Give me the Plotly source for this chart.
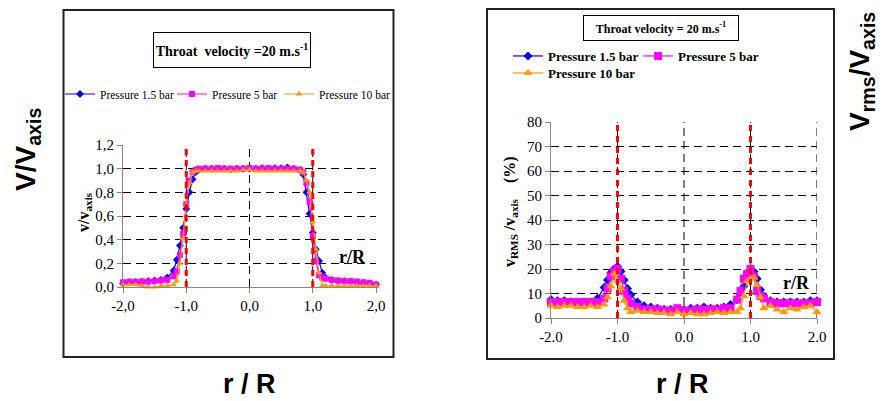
import plotly.graph_objects as go

# ---------------- data ----------------
r_left = [-2.0, -1.9, -1.8, -1.7, -1.6, -1.5, -1.4, -1.3, -1.2, -1.15, -1.1, -1.05, -1.0, -0.95, -0.9, -0.85,
          -0.8, -0.7, -0.6, -0.5, -0.4, -0.3, -0.2, -0.1, 0.0, 0.1, 0.2, 0.3, 0.4, 0.5, 0.6, 0.7, 0.8,
          0.85, 0.9, 0.95, 1.0, 1.05, 1.1, 1.15, 1.2, 1.3, 1.4, 1.5, 1.6, 1.7, 1.8, 1.9, 2.0]

v_p15 = [0.03, 0.04, 0.04, 0.045, 0.05, 0.055, 0.06, 0.08, 0.14, 0.23, 0.35, 0.50, 0.66, 0.80, 0.91, 0.97,
         0.99, 1.0, 1.0, 1.0, 1.0, 0.995, 1.0, 1.0, 1.0, 1.0, 1.005, 1.0, 1.005, 1.005, 1.01, 1.0, 0.99,
         0.95, 0.80, 0.62, 0.46, 0.32, 0.22, 0.12, 0.08, 0.06, 0.05, 0.05, 0.045, 0.04, 0.035, 0.03, 0.02]
v_p5 = [0.04, 0.045, 0.045, 0.045, 0.045, 0.05, 0.055, 0.06, 0.09, 0.13, 0.27, 0.45, 0.70, 0.90, 0.97, 0.99,
        1.0, 1.0, 1.0, 1.005, 1.0, 1.0, 1.0, 1.0, 1.005, 1.0, 1.0, 1.005, 1.0, 1.0, 1.0, 1.0, 0.99,
        0.97, 0.88, 0.72, 0.43, 0.22, 0.10, 0.08, 0.07, 0.06, 0.055, 0.05, 0.05, 0.045, 0.04, 0.035, 0.02]
v_p10 = [0.02, 0.02, 0.02, 0.01, 0.0, 0.0, 0.01, 0.01, 0.02, 0.05, 0.20, 0.41, 0.70, 0.88, 0.97, 0.98,
         0.98, 0.98, 0.98, 0.98, 0.98, 0.98, 0.98, 0.99, 0.99, 0.98, 0.98, 0.98, 0.98, 0.98, 0.98, 0.98, 0.98,
         0.97, 0.90, 0.80, 0.55, 0.32, 0.12, 0.01, 0.01, 0.01, 0.01, 0.01, 0.01, 0.01, 0.01, 0.01, 0.01]

r_right = r_left

rms_p15 = [7.5, 7.0, 7.0, 6.5, 6.5, 6.5, 6.5, 8.0, 12.5, 15.5, 18.5, 20.0, 21.0, 19.0, 15.5, 12.0,
           9.5, 6.5, 5.0, 4.5, 4.0, 3.5, 3.5, 3.5, 3.5, 4.0, 4.0, 4.5, 4.0, 4.0, 4.5, 5.5, 7.5,
           9.5, 13.0, 18.0, 19.5, 19.0, 16.0, 11.5, 9.0, 7.0, 6.5, 6.5, 6.5, 6.5, 6.5, 7.0, 7.0]
rms_p5 = [6.5, 6.5, 6.5, 6.5, 6.5, 6.5, 6.5, 6.5, 8.0, 12.0, 17.0, 19.0, 20.0, 16.0, 11.0, 8.0,
          6.0, 4.5, 3.5, 3.5, 3.5, 3.0, 3.0, 4.0, 3.0, 3.0, 3.5, 3.5, 3.5, 3.5, 4.0, 4.0, 7.5,
          11.0, 16.0, 18.0, 20.0, 17.0, 11.0, 9.0, 8.0, 6.5, 6.0, 6.0, 6.0, 6.0, 6.0, 6.0, 6.5]
rms_p10 = [5.0, 4.5, 5.0, 5.0, 4.5, 4.5, 5.0, 4.5, 5.5, 8.5, 13.0, 18.0, 15.0, 12.0, 7.0, 4.0,
           2.5, 3.0, 2.5, 2.5, 2.0, 2.0, 1.5, 2.5, 1.5, 2.0, 1.5, 1.5, 2.0, 2.5, 2.0, 2.5, 2.5,
           4.0, 9.0, 15.0, 16.0, 16.5, 13.5, 8.5, 4.0, 5.0, 3.5, 2.5, 4.0, 3.5, 4.5, 5.0, 2.5]

series_names = ["Pressure 1.5 bar", "Pressure 5 bar", "Pressure 10 bar"]
series_colors = ["#0000FF", "#FF00FF", "#FF9900"]
series_symbols = ["diamond", "square", "triangle-up"]

left_xticks = [-2, -1, 0, 1, 2]
left_xticktext = ["-2,0", "-1,0", "0,0", "1,0", "2,0"]
left_yticks = [0, 0.2, 0.4, 0.6, 0.8, 1.0, 1.2]
left_yticktext = ["0,0", "0,2", "0,4", "0,6", "0,8", "1,0", "1,2"]
right_xticks = [-2, -1, 0, 1, 2]
right_xticktext = ["-2.0", "-1.0", "0.0", "1.0", "2.0"]
right_yticks = [0, 10, 20, 30, 40, 50, 60, 70, 80]
left_vgrid = [-1, 0, 1]
right_vgrid = [-1, 0, 1, 2]
wall_positions = [-1, 1]

W, H = 885, 401
SERIF = "Liberation Serif"
SANS = "Liberation Sans"


def px(x):
    return x / W


def py(y):
    return 1 - y / H


fig = go.Figure()

left_vals = [v_p15, v_p5, v_p10]
left_legends = ["legend", "legend4", "legend5"]
for name, col, sym, vals, lg in zip(series_names, series_colors, series_symbols, left_vals, left_legends):
    fig.add_trace(go.Scatter(
        x=r_left, y=vals, mode="lines+markers", name=name, legend=lg,
        line=dict(color=col, width=1.2), marker=dict(symbol=sym, size=6, color=col),
        xaxis="x", yaxis="y", cliponaxis=False))

right_vals = [rms_p15, rms_p5, rms_p10]
legends_right = ["legend2", "legend2", "legend3"]
right_sizes = [7, 8, 8]
for name, col, sym, vals, lg, ms in zip(series_names, series_colors, series_symbols, right_vals,
                                        legends_right, right_sizes):
    fig.add_trace(go.Scatter(
        x=r_right, y=vals, mode="lines+markers", name="<b>" + name + "</b>", legend=lg,
        line=dict(color=col, width=1.2), marker=dict(symbol=sym, size=ms, color=col),
        xaxis="x2", yaxis="y2", cliponaxis=False))

axis_common = dict(showline=True, linecolor="#868686", linewidth=1, ticks="outside", ticklen=5,
                   tickcolor="#868686", zeroline=False, automargin=False,
                   tickfont=dict(family=SERIF, size=15, color="#000"))
grid_common = dict(showgrid=True, gridcolor="#000", griddash="8px,5px", gridwidth=1)


def leg(xpos, ypos, size, **kw):
    return dict(orientation="h", x=px(xpos), xanchor="left", y=py(ypos), yanchor="middle",
                font=dict(family=SERIF, size=size, color="#000"), bgcolor="rgba(0,0,0,0)",
                itemwidth=30, **kw)


fig.update_layout(
    width=W, height=H, margin=dict(l=0, r=0, t=0, b=0, pad=0, autoexpand=False),
    paper_bgcolor="white", plot_bgcolor="white",
    xaxis=dict(domain=[px(123), px(376)], range=[-2, 2], tickvals=left_xticks, ticktext=left_xticktext,
               showgrid=False, anchor="y", **axis_common),
    yaxis=dict(domain=[py(287), py(145)], range=[0, 1.2], tickvals=left_yticks, ticktext=left_yticktext,
               anchor="x", **grid_common, **axis_common),
    xaxis2=dict(domain=[px(551), px(817)], range=[-2, 2], tickvals=right_xticks, ticktext=right_xticktext,
                showgrid=False, anchor="y2", **axis_common),
    yaxis2=dict(domain=[py(318), py(122)], range=[0, 80], tickvals=right_yticks,
                anchor="x2", **grid_common, **axis_common),
    legend=leg(60, 94, 11.5),
    legend4=leg(172, 94, 11.5),
    legend5=leg(279, 94, 11.5),
    legend2=leg(508, 56, 13, entrywidth=85, entrywidthmode="pixels"),
    legend3=leg(508, 73, 13),
    showlegend=True,
)

shapes = []
# outer panel frames
shapes.append(dict(type="rect", xref="paper", yref="paper", x0=px(63.5), x1=px(393.5), y0=py(357), y1=py(10),
                   line=dict(color="#222", width=2), layer="below"))
shapes.append(dict(type="rect", xref="paper", yref="paper", x0=px(487), x1=px(834), y0=py(359), y1=py(9),
                   line=dict(color="#222", width=2), layer="below"))
for xv in left_vgrid:
    shapes.append(dict(type="line", xref="x", yref="y domain", x0=xv, x1=xv, y0=0, y1=1,
                       line=dict(color="#000", width=1, dash="8px,5px"), layer="below"))
for xv in right_vgrid:
    shapes.append(dict(type="line", xref="x2", yref="y2 domain", x0=xv, x1=xv, y0=0, y1=1,
                       line=dict(color="#000", width=1, dash="8px,5px"), layer="below"))
for xv in wall_positions:
    shapes.append(dict(type="line", xref="x", yref="y domain", x0=xv, x1=xv, y0=0, y1=1,
                       line=dict(color="#FF0000", width=3, dash="6px,5px")))
    shapes.append(dict(type="line", xref="x2", yref="y2 domain", x0=xv, x1=xv, y0=0, y1=1,
                       line=dict(color="#FF0000", width=3, dash="6px,5px")))
fig.update_layout(shapes=shapes)


def note(text, xpos, ypos, family, size, angle=0, **kw):
    return dict(text=text, x=px(xpos), y=py(ypos), xref="paper", yref="paper",
                xanchor="center", yanchor="middle", showarrow=False, textangle=angle,
                font=dict(family=family, size=size, color="#000"), **kw)


ann = [
    note("<b>Throat&nbsp; velocity =20 m.s<sup>-1</sup></b>", 232, 49.5, SERIF, 14,
         bordercolor="#000", borderwidth=1, borderpad=2, width=152, height=30, bgcolor="white"),
    note("<b>Throat velocity = 20 m.s<sup>-1</sup></b>", 661, 27.5, SERIF, 12,
         bordercolor="#000", borderwidth=1, borderpad=2, width=150, height=20, bgcolor="white"),
    note("<b>v/v<sub>axis</sub></b>", 84, 212, SERIF, 16, angle=-90),
    note("<b>v<sub>RMS</sub> /v<sub>axis</sub>&nbsp;&nbsp;&nbsp; (%)</b>", 510, 212, SERIF, 16, angle=-90),
    note("<b>r/R</b>", 352, 257, SERIF, 18),
    note("<b>r/R</b>", 796, 283, SERIF, 18),
    note("<b>V/V<sub>axis</sub></b>", 27, 150, SANS, 28, angle=-90),
    note("<b>V<sub>rms</sub>/V<sub>axis</sub></b>", 861, 72, SANS, 28, angle=-90),
    note("<b>r / R</b>", 249, 384, SANS, 27),
    note("<b>r / R</b>", 682, 384, SANS, 27),
]
fig.update_layout(annotations=ann)

fig.write_html("out.html", config={"displayModeBar": False},
               post_script="document.body.style.margin='0px';")
